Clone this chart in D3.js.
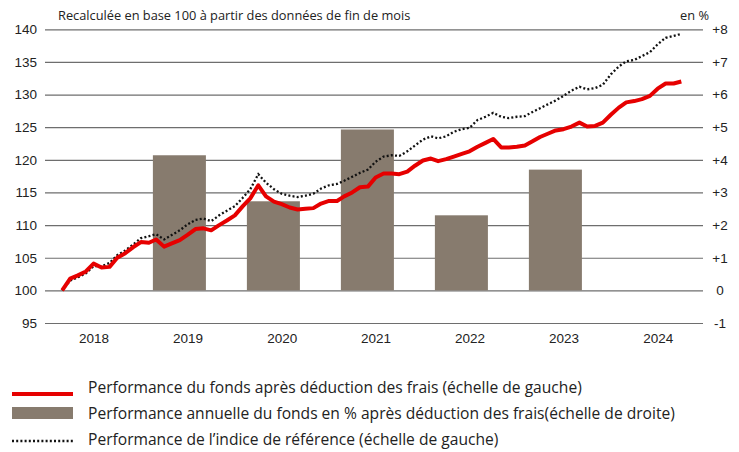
<!DOCTYPE html>
<html>
<head>
<meta charset="utf-8">
<script src="https://cdn.jsdelivr.net/npm/d3@7"></script>
<style>
  body { margin: 0; background: #fff; }
  svg { font-family: "Open Sans", sans-serif; }
  .grid line { stroke: #6e6e6e; stroke-width: 1.2; }
  .axis text { fill: #222; font-size: 13.5px; }
  .legend text { fill: #222; font-size: 15.6px; }
</style>
</head>
<body>
<div id="chart"></div>
<script>
// ---- data ----
const years = [2018, 2019, 2020, 2021, 2022, 2023, 2024];
const leftTicks = [95, 100, 105, 110, 115, 120, 125, 130, 135, 140];
const rightTicks = [-1, 0, 1, 2, 3, 4, 5, 6, 7, 8];

// annual fund performance in % (right scale)
const barYears = [2019, 2020, 2021, 2022, 2023];
const barValues = [4.14, 2.73, 4.93, 2.30, 3.70];

// month-end values, base 100 at end of Feb 2018 (left scale)
const firstMonth = new Date(2018, 2, 1);
const fundValues = [
  100.0, 101.8, 102.3, 102.9, 104.1, 103.5, 103.6, 105.0, 105.7, 106.6,
  107.4, 107.3, 107.8, 106.7, 107.2, 107.7, 108.5, 109.4, 109.5, 109.2,
  110.0, 110.7, 111.5, 112.9, 114.1, 116.1, 114.4, 113.6, 113.2, 112.7,
  112.4, 112.5, 112.6, 113.3, 113.7, 113.7, 114.4, 115.0, 115.8, 115.9,
  117.3, 117.9, 117.9, 117.8, 118.2, 119.1, 119.9, 120.2, 119.8, 120.1,
  120.5, 120.9, 121.3, 122.0, 122.6, 123.2, 121.9, 121.9, 122.0, 122.2,
  122.8, 123.5, 124.0, 124.5, 124.7, 125.1, 125.7, 125.1, 125.2, 125.7,
  126.9, 128.0, 128.8, 129.0, 129.3, 129.8, 130.9, 131.7, 131.7, 132.0
];
const indexValues = [
  100.0, 101.5, 102.0, 102.6, 103.7, 103.7, 104.2, 105.4, 106.1, 107.0,
  108.0, 108.3, 108.6, 107.8, 108.5, 109.2, 110.1, 110.8, 111.0, 110.6,
  111.5, 112.2, 112.9, 114.2, 115.5, 117.8, 116.5, 115.5, 114.8, 114.5,
  114.3, 114.5, 114.8, 115.6, 116.1, 116.3, 116.8, 117.4, 118.0, 118.5,
  119.7, 120.5, 120.7, 120.6, 121.3, 122.2, 123.1, 123.6, 123.3, 123.6,
  124.3, 124.7, 124.9, 126.1, 126.6, 127.2, 126.6, 126.4, 126.6, 126.7,
  127.3, 127.9, 128.5, 129.1, 129.8, 130.6, 131.2, 130.8, 131.0, 131.5,
  133.1, 134.3, 135.1, 135.3, 135.9, 136.5, 137.7, 138.7, 139.0, 139.3
];

const legendLabels = [
  'Performance du fonds après déduction des frais (échelle de gauche)',
  'Performance annuelle du fonds en % après déduction des frais(échelle de droite)',
  'Performance de l’indice de référence (échelle de gauche)'
];

const width = 739, height = 452;
const plot = { left: 45, right: 703, top: 29.3, bottom: 323 };
const barColor = '#877b6e';
const red = '#e60000';

const svg = d3.select('#chart').append('svg')
    .attr('width', width)
    .attr('height', height);

// scales
const x = d3.scaleTime()
    .domain([new Date(2018, 0, 1), new Date(2025, 0, 1)])
    .range([47, 705]);

const xBand = d3.scaleBand()
    .domain(years)
    .range([47, 705])
    .paddingInner(0.436)
    .paddingOuter(0.218)
    .align(0.29);

const y = d3.scaleLinear().domain([95, 140]).range([plot.bottom, plot.top]);
const yRight = d3.scaleLinear().domain([-1, 8]).range([plot.bottom, plot.top]);

// grid + left axis
svg.append('g')
    .attr('class', 'axis grid')
    .attr('transform', `translate(${plot.left},0)`)
    .call(d3.axisLeft(y)
      .tickValues(leftTicks)
      .tickSize(-(plot.right - plot.left))
      .tickPadding(8))
    .call(g => g.select('.domain').remove());

// right axis labels
svg.append('g')
    .attr('class', 'axis')
    .attr('transform', `translate(${plot.right},0)`)
    .call(d3.axisRight(yRight)
      .tickValues(rightTicks)
      .tickSize(0)
      .tickFormat(d => d > 0 ? '+' + d : String(d)))
    .call(g => g.select('.domain').remove())
    .call(g => g.selectAll('text').attr('x', 17).attr('text-anchor', 'middle'));

// year labels
svg.append('g')
    .attr('class', 'axis')
    .attr('transform', `translate(0,${plot.bottom})`)
    .call(d3.axisBottom(x)
      .tickValues(years.map(yr => new Date(yr, 6, 1)))
      .tickFormat(d3.timeFormat('%Y'))
      .tickSize(0)
      .tickPadding(10))
    .call(g => g.select('.domain').remove());

// bars
svg.append('g')
  .selectAll('rect')
  .data(barYears.map((yr, i) => ({ year: yr, value: barValues[i] })))
  .join('rect')
    .attr('x', d => xBand(d.year))
    .attr('width', xBand.bandwidth())
    .attr('y', d => yRight(d.value))
    .attr('height', d => yRight(0) - yRight(d.value))
    .attr('fill', barColor);

// lines
const dates = fundValues.map((v, i) => d3.timeMonth.offset(firstMonth, i));
const line = d3.line()
    .x((d, i) => x(dates[i]))
    .y(d => y(d));

svg.append('path')
    .datum(indexValues)
    .attr('fill', 'none')
    .attr('stroke', '#111')
    .attr('stroke-width', 2.3)
    .attr('stroke-dasharray', '2,2.2')
    .attr('d', line);

svg.append('path')
    .datum(fundValues)
    .attr('fill', 'none')
    .attr('stroke', red)
    .attr('stroke-width', 4)
    .attr('stroke-linejoin', 'round')
    .attr('d', line);

// top texts
svg.append('text')
    .attr('x', 58).attr('y', 20)
    .attr('font-size', 12.8).attr('fill', '#222')
    .text('Recalculée en base 100 à partir des données de fin de mois');

svg.append('text')
    .attr('x', 709).attr('y', 20)
    .attr('text-anchor', 'end')
    .attr('font-size', 12.8).attr('fill', '#222')
    .text('en %');

// legend
const legend = svg.append('g').attr('class', 'legend');
const rowY = [388, 414, 440];

legend.append('line')
    .attr('x1', 12).attr('x2', 73)
    .attr('y1', rowY[0] + 6).attr('y2', rowY[0] + 6)
    .attr('stroke', red).attr('stroke-width', 4);

legend.append('rect')
    .attr('x', 12).attr('y', rowY[1] - 7)
    .attr('width', 61).attr('height', 12)
    .attr('fill', barColor);

legend.append('line')
    .attr('x1', 12).attr('x2', 73)
    .attr('y1', rowY[2] + 1).attr('y2', rowY[2] + 1)
    .attr('stroke', '#111').attr('stroke-width', 2.3)
    .attr('stroke-dasharray', '2,2.2');

legend.selectAll('text')
  .data(legendLabels)
  .join('text')
    .attr('x', 88)
    .attr('y', (d, i) => rowY[i])
    .attr('dy', '0.35em')
    .text(d => d);
</script>
</body>
</html>
